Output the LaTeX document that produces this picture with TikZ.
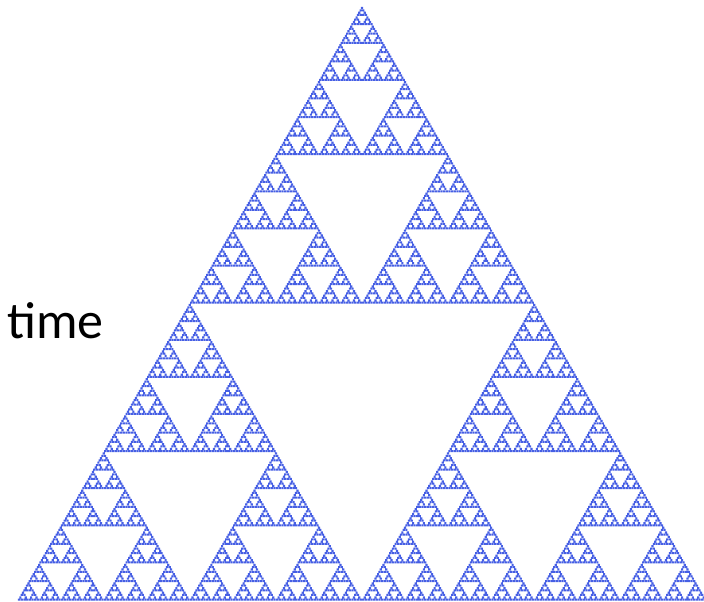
\documentclass[tikz,border=0pt]{standalone}
\usepackage{fontspec}
\newfontfamily\labelfont{Carlito}
\usetikzlibrary{positioning,calc}
\definecolor{cellblue}{RGB}{70,95,228}

% one cell of the automaton, pitch and size
\def\sierpx{360.9pt}
\def\sierpy{595pt}
\def\sierpdx{1.345pt}
\def\sierpdy{2.32pt}
\def\sierpw{2.2pt}
\def\sierph{2.0pt}

% #1 size (power of two), #2 column (doubled), #3 row
\def\sierpinski#1#2#3{%
  \ifnum#1=1
    \pgfpathrectangle{\pgfqpoint{\dimexpr\sierpx+\sierpdx*(#2)\relax}{\dimexpr\sierpy-\sierpdy*(#3)\relax}}{\pgfqpoint{\sierpw}{-\sierph}}%
  \else
    \edef\sierphalf{\the\numexpr#1/2\relax}%
    \edef\sierpnext{%
      \noexpand\sierpinski{\sierphalf}{#2}{#3}%
      \noexpand\sierpinski{\sierphalf}{\the\numexpr#2-\sierphalf}{\the\numexpr#3+\sierphalf}%
      \noexpand\sierpinski{\sierphalf}{\the\numexpr#2+\sierphalf}{\the\numexpr#3+\sierphalf}}%
    \sierpnext
  \fi}

\begin{document}
\begin{tikzpicture}[x=1pt,y=1pt]

\useasboundingbox (0,0) rectangle (704,602);

\coordinate (apex) at (362,595);

\begin{scope}
  \pgfsetfillcolor{cellblue}
  \sierpinski{256}{0}{0}
  \pgfusepath{fill}
\end{scope}

\node[anchor=base west, inner sep=0pt, font=\labelfont\fontsize{52}{60}\selectfont] (time) at (7,263) {time};

\end{tikzpicture}
\end{document}
